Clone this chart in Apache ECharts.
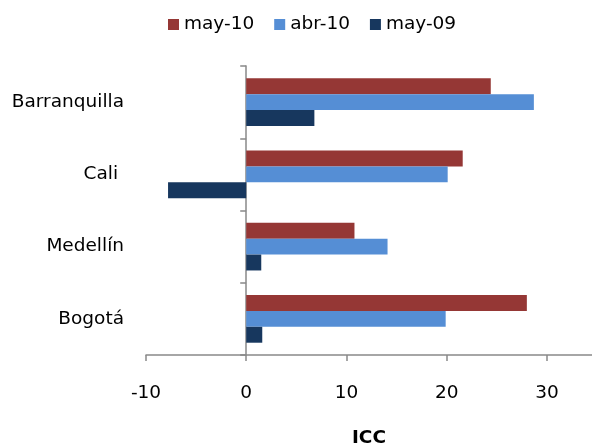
<!DOCTYPE html>
<html>
<head>
<meta charset="utf-8">
<script src="https://cdn.jsdelivr.net/npm/echarts@6/dist/echarts.min.js"></script>
<style>html,body{margin:0;padding:0;background:#fff}#c{width:592px;height:446px}</style>
</head>
<body>
<div id="c"></div>
<script>
const categories = ['Bogotá', 'Medellín', 'Cali ', 'Barranquilla'];
const seriesNames = ['may-10', 'abr-10', 'may-09'];
const may10 = [28.0, 10.8, 21.6, 24.4];
const abr10 = [19.9, 14.1, 20.1, 28.7];
const may09 = [1.6, 1.5, -7.8, 6.8];
const xTicks = { min: -10, max: 34.5, interval: 10 };
const colors = ['#953735', '#558ED5', '#17375E'];
const FONT = 'DejaVu Sans';
const FS = 18.5;

const chart = echarts.init(document.getElementById('c'));
const axisGray = '#898989';
chart.setOption({
  animation: false,
  textStyle: { fontFamily: FONT },
  legend: {
    data: seriesNames,
    left: 163, top: 10,
    itemWidth: 11, itemHeight: 11, itemGap: 20,
    icon: 'rect',
    textStyle: { fontSize: FS, color: '#000', fontFamily: FONT }
  },
  grid: { left: 146, right: 0, top: 66, bottom: 91, containLabel: false, outerBoundsMode: 'none' },
  xAxis: {
    type: 'value', min: xTicks.min, max: xTicks.max, interval: xTicks.interval,
    splitLine: { show: false },
    axisLine: { show: true, lineStyle: { color: axisGray, width: 1.5 } },
    axisTick: { show: true, length: 6, lineStyle: { color: axisGray, width: 1.5 } },
    axisLabel: { fontSize: FS, color: '#000', margin: 29, fontFamily: FONT,
      showMaxLabel: false },
    name: 'ICC', nameLocation: 'middle', nameGap: 74,
    nameTextStyle: { fontSize: FS, fontWeight: 'bold', color: '#000', fontFamily: FONT }
  },
  yAxis: [{
    type: 'category', data: categories,
    axisLine: { show: true, onZero: true, lineStyle: { color: axisGray, width: 1.5 } },
    axisTick: { show: true, length: 6, lineStyle: { color: axisGray, width: 1.5 } },
    axisLabel: { show: false }
  }, {
    type: 'category', data: categories, position: 'left',
    axisLine: { show: false, onZero: false },
    axisTick: { show: false },
    axisLabel: { fontSize: FS, color: '#000', margin: 22, fontFamily: FONT }
  }],
  series: [
    { name: seriesNames[0], type: 'bar', data: may10, itemStyle: { color: colors[0] }, barCategoryGap: '34%', barGap: '0%' },
    { name: seriesNames[1], type: 'bar', data: abr10, itemStyle: { color: colors[1] }, barCategoryGap: '34%', barGap: '0%' },
    { name: seriesNames[2], type: 'bar', data: may09, itemStyle: { color: colors[2] }, barCategoryGap: '34%', barGap: '0%' }
  ]
});
</script>
</body>
</html>
